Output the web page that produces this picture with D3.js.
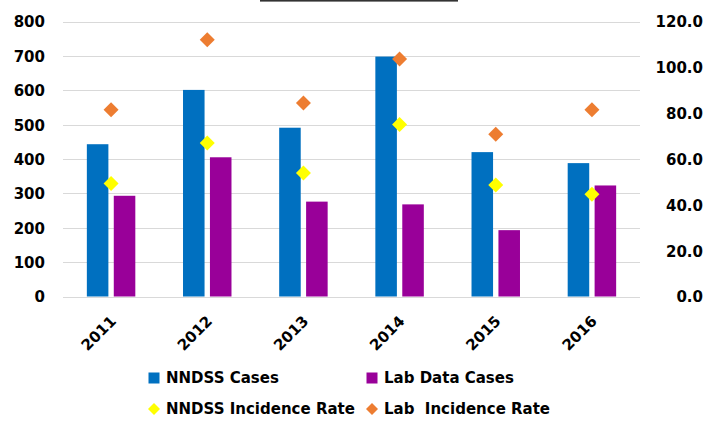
<!DOCTYPE html>
<html>
<head>
<meta charset="utf-8">
<script src="https://cdn.jsdelivr.net/npm/d3@7"></script>
<style>
  html, body { margin: 0; padding: 0; background: #fff; }
  svg { display: block; }
  text { font-family: "DejaVu Sans", sans-serif; font-weight: bold; fill: #000; }
</style>
</head>
<body>
<svg id="chart" width="723" height="422"></svg>
<script>
// Annual cases and incidence rates, 2011–2016
const years = ["2011", "2012", "2013", "2014", "2015", "2016"];
const nndssCases = [443, 601, 491, 698, 420, 388];
const labCases = [293, 405, 276, 268, 193, 323];
const nndssRate = [49.3, 67.0, 53.9, 75.1, 48.7, 44.6];
const labRate = [81.5, 112.0, 84.4, 103.6, 70.8, 81.5];

const leftTicks = [0, 100, 200, 300, 400, 500, 600, 700, 800];
const rightTicks = [0, 20, 40, 60, 80, 100, 120];

const barSeries = [
  { name: "NNDSS Cases", values: nndssCases, color: "#0070c0" },
  { name: "Lab Data Cases", values: labCases, color: "#990099" }
];
const rateSeries = [
  { name: "NNDSS Incidence Rate", values: nndssRate, color: "#ffff00" },
  { name: "Lab  Incidence Rate", values: labRate, color: "#ed7d31" }
];

const svg = d3.select("#chart");
const plot = { left: 63, right: 640, top: 21.5, bottom: 296.5 };

const x0 = d3.scaleBand().domain(years).range([plot.left, plot.right]).paddingInner(0.496).paddingOuter(0.248);
const x1 = d3.scaleBand().domain(barSeries.map(s => s.name)).range([0, x0.bandwidth()]).paddingInner(0.2);
const yLeft = d3.scaleLinear().domain([0, 800]).range([plot.bottom, plot.top]);
const yRight = d3.scaleLinear().domain([0, 120]).range([plot.bottom, plot.top]);
const cx = d => x0(d) + x0.bandwidth() / 2;

// decorative rule above the chart
svg.append("rect").attr("x", 260).attr("y", 0).attr("width", 198).attr("height", 1.6).attr("fill", "#333");

// gridlines
svg.append("g").selectAll("line").data(leftTicks).join("line")
  .attr("x1", plot.left).attr("x2", plot.right)
  .attr("y1", d => Math.round(yLeft(d)) + 0.5).attr("y2", d => Math.round(yLeft(d)) + 0.5)
  .attr("stroke", "#d9d9d9").attr("stroke-width", 1);

// left axis
const leftAxis = svg.append("g").attr("transform", `translate(${plot.left - 18},0)`)
  .call(d3.axisLeft(yLeft).tickValues(leftTicks).tickSize(0).tickPadding(0));
leftAxis.select(".domain").remove();
leftAxis.selectAll("text").style("font-size", "15px").style("font-family", "DejaVu Sans").style("font-weight", "bold").attr("dy", "0.36em");

// right axis
const rightAxis = svg.append("g").attr("transform", `translate(703,0)`)
  .call(d3.axisLeft(yRight).tickValues(rightTicks).tickFormat(d3.format(".1f")).tickSize(0).tickPadding(0));
rightAxis.select(".domain").remove();
rightAxis.selectAll("text").style("font-size", "15px").style("font-family", "DejaVu Sans").style("font-weight", "bold").attr("dy", "0.36em");

// bars
const groups = svg.append("g").selectAll("g").data(years).join("g")
  .attr("transform", d => `translate(${x0(d)},0)`);
groups.selectAll("rect").data((d, i) => barSeries.map(s => ({ s, v: s.values[i] }))).join("rect")
  .attr("x", d => x1(d.s.name)).attr("width", x1.bandwidth())
  .attr("y", d => yLeft(d.v)).attr("height", d => yLeft(0) - yLeft(d.v))
  .attr("fill", d => d.s.color);

// rate markers (diamonds)
const diamond = r => `M0,${-r}L${r},0L0,${r}L${-r},0Z`;
rateSeries.forEach(s => {
  svg.append("g").selectAll("path").data(years).join("path")
    .attr("transform", (d, i) => `translate(${cx(d)},${yRight(s.values[i])})`)
    .attr("d", diamond(7.5)).attr("fill", s.color);
});

// category labels
svg.append("g").selectAll("text").data(years).join("text")
  .attr("transform", d => `translate(${cx(d) + 6},322) rotate(-45)`)
  .attr("text-anchor", "end").style("font-size", "15px").text(d => d);

// legend
const legendItems = [
  { s: barSeries[0], type: "square", x: 154, y: 378 },
  { s: barSeries[1], type: "square", x: 372, y: 378 },
  { s: rateSeries[0], type: "diamond", x: 154, y: 409 },
  { s: rateSeries[1], type: "diamond", x: 372, y: 409 }
];
const lg = svg.append("g").selectAll("g").data(legendItems).join("g")
  .attr("transform", d => `translate(${d.x},${d.y})`);
lg.filter(d => d.type === "square").append("rect")
  .attr("x", -5.5).attr("y", -5.5).attr("width", 11).attr("height", 11).attr("fill", d => d.s.color);
lg.filter(d => d.type === "diamond").append("path")
  .attr("d", diamond(6)).attr("fill", d => d.s.color);
lg.append("text").attr("x", 12).attr("dy", "0.36em").style("font-size", "15px")
  .style("white-space", "pre").attr("xml:space", "preserve").text(d => d.s.name);
</script>
</body>
</html>
